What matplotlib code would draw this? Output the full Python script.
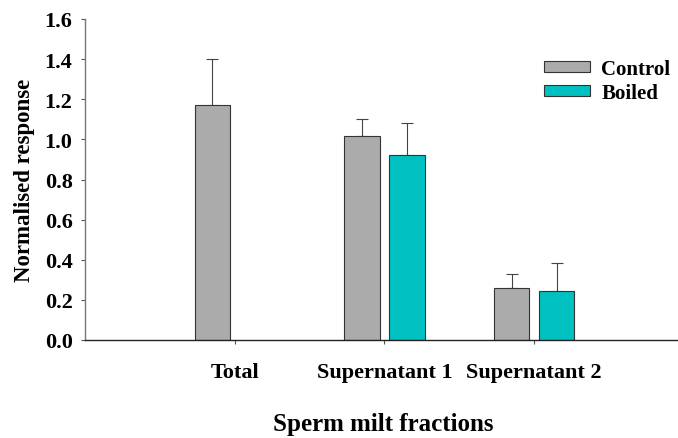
import matplotlib
matplotlib.use("Agg")
import matplotlib.pyplot as plt
import numpy as np

categories = ["Total", "Supernatant 1", "Supernatant 2"]
control = [1.17, 1.017, 0.26]
control_err = [0.23, 0.083, 0.07]
boiled = [np.nan, 0.922, 0.245]
boiled_err = [np.nan, 0.158, 0.14]

plt.rcParams['font.family'] = ['Liberation Serif', 'DejaVu Serif']
plt.rcParams['font.weight'] = 'bold'

fig = plt.figure(figsize=(6.78, 4.39), dpi=100)
ax = fig.add_axes([85/678, (439-341)/439, (678-85)/678, (341-20)/439])

x = np.arange(1, len(categories) + 1)
w = 0.235
off = 0.15
ax.bar(x - off, control, w, color='#ABABAB', edgecolor='#333333', linewidth=0.8,
       label='Control', zorder=2)
ax.bar(x + off, boiled, w, color='#00C0C0', edgecolor='#333333', linewidth=0.8,
       label='Boiled', zorder=2)
ax.errorbar(x - off, control, yerr=[np.zeros(3), control_err], fmt='none',
            ecolor='#444444', elinewidth=0.8, capsize=4.5, capthick=0.8, zorder=1)
ax.errorbar(x + off, boiled, yerr=[np.zeros(3), boiled_err], fmt='none',
            ecolor='#444444', elinewidth=0.8, capsize=4.5, capthick=0.8, zorder=1)

ax.set_xlim(0, 3.96)
ax.set_ylim(0, 1.6)
yt = np.arange(0, 1.61, 0.2)
ax.set_yticks(yt)
ax.set_yticklabels([f"{v:.1f}" for v in yt], fontsize=16, fontweight='bold')
ax.set_xticks(x)
ax.set_xticklabels(categories, fontsize=16, fontweight='bold')
ax.tick_params(axis='y', length=3, width=0.8, color='#555555', pad=6)
ax.tick_params(axis='x', length=3, width=0.8, color='#555555', pad=13)

for s in ['top', 'right']:
    ax.spines[s].set_visible(False)
ax.spines['left'].set_color('#777777')
ax.spines['left'].set_linewidth(1.0)
ax.spines['bottom'].set_color('#222222')
ax.spines['bottom'].set_linewidth(1.0)

ax.set_ylabel("Normalised response", fontsize=16.5, fontweight='bold')
ax.yaxis.set_label_coords((25 - 85) / 593, 0.5)
ax.yaxis.label.set_va('center')
ax.yaxis.label.set_ha('center')
ax.set_xlabel("Sperm milt fractions", fontsize=18, fontweight='bold')
ax.xaxis.set_label_coords((383 - 85) / 593, (341 - 425) / 321)
ax.xaxis.label.set_va('center')

leg = ax.legend(loc='upper left', bbox_to_anchor=(544 / 678, 1 - 60 / 439),
                bbox_transform=fig.transFigure, frameon=False,
                handlelength=2.2, handleheight=0.43, handletextpad=0.55,
                labelspacing=0.2, borderpad=0, borderaxespad=0,
                prop={'weight': 'bold', 'size': 15})

fig.savefig("out.png", dpi=100)
